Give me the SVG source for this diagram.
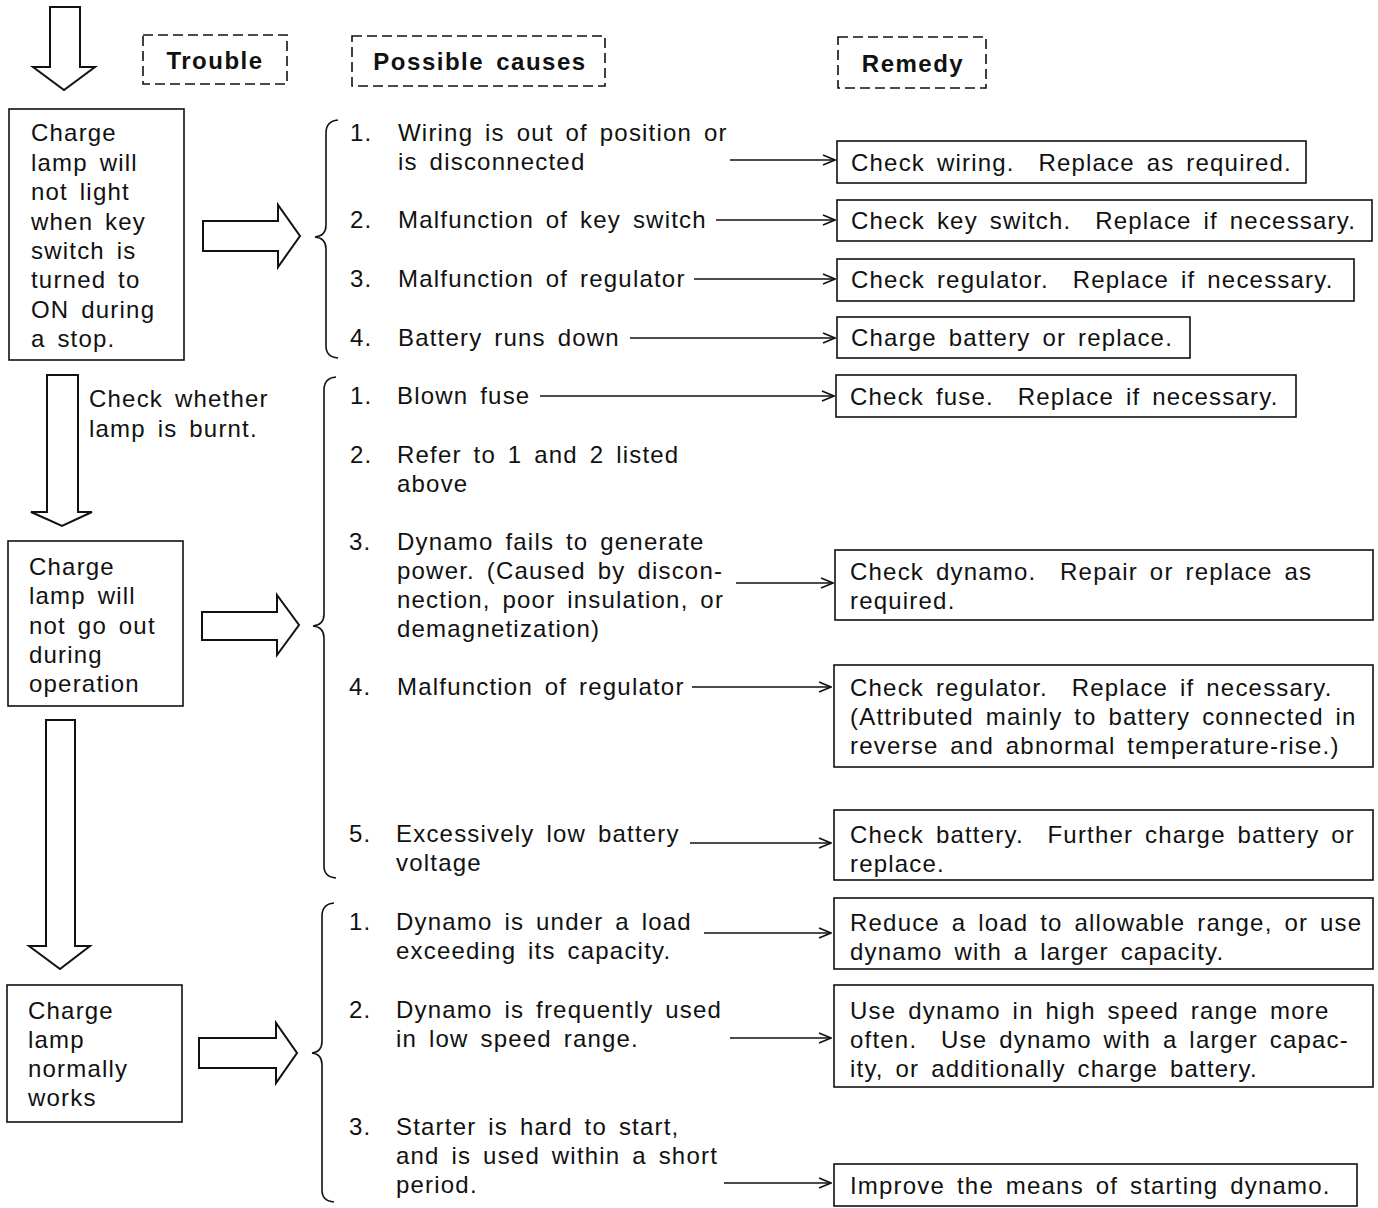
<svg xmlns="http://www.w3.org/2000/svg" width="1378" height="1208" viewBox="0 0 1378 1208">
<style>
text{font-family:"Liberation Sans",Arial,sans-serif;font-size:24px;fill:#111;letter-spacing:1.2px;word-spacing:4px;white-space:pre}
.h{font-weight:bold;letter-spacing:1.5px}
.dash{fill:none;stroke:#111;stroke-width:1.6;stroke-dasharray:10 5}
.box{fill:#fff;stroke:#111;stroke-width:1.6}
.big{fill:#fff;stroke:#111;stroke-width:2;stroke-linejoin:miter}
.brace{fill:none;stroke:#111;stroke-width:1.6}
.con{fill:none;stroke:#111;stroke-width:1.6;marker-end:url(#ah)}
</style>
<defs>
<marker id="ah" viewBox="0 0 14 12" refX="13" refY="6" markerWidth="14" markerHeight="12" markerUnits="userSpaceOnUse" orient="auto">
<path d="M1,1 L13,6 L1,11" fill="none" stroke="#111" stroke-width="1.6"/>
</marker>
</defs>
<rect width="1378" height="1208" fill="#fff"/>

<g id="headers">
<g id="h-trouble"><rect class="dash" x="143" y="35" width="144" height="49"/><text class="h" x="215" y="69" text-anchor="middle">Trouble</text></g>
<g id="h-causes"><rect class="dash" x="352" y="36" width="253" height="50"/><text class="h" x="480" y="70" text-anchor="middle">Possible causes</text></g>
<g id="h-remedy"><rect class="dash" x="838" y="37" width="148" height="51"/><text class="h" x="913" y="72" text-anchor="middle">Remedy</text></g>
</g>

<g id="flow-arrows">
<path id="down0" class="big" d="M50,7 H80 V67 H95 L64,90 L33,67 H50 Z"/>
<path id="down1" class="big" d="M47,375 H78 V512 H92 L62,526 L31,512 H47 Z"/>
<path id="down2" class="big" d="M46,720 H75 V946 H90 L60,969 L29,946 H46 Z"/>
<path id="right1" class="big" d="M203,221 H278 V205 L300,236 L278,267 V251 H203 Z"/>
<path id="right2" class="big" d="M202,612 H277 V595 L299,625 L277,655 V640 H202 Z"/>
<path id="right3" class="big" d="M199,1038 H276 V1023 L297,1053 L276,1083 V1068 H199 Z"/>
</g>

<g id="trouble1"><rect class="box" x="9" y="109" width="175" height="251"/>
<text x="31" y="141">Charge</text><text x="31" y="171">lamp will</text><text x="31" y="200">not light</text><text x="31" y="230">when key</text><text x="31" y="259">switch is</text><text x="31" y="288">turned to</text><text x="31" y="318">ON during</text><text x="31" y="347">a stop.</text></g>

<g id="note"><text x="89" y="407">Check whether</text><text x="89" y="437">lamp is burnt.</text></g>

<g id="trouble2"><rect class="box" x="8" y="541" width="175" height="165"/>
<text x="29" y="575">Charge</text><text x="29" y="604">lamp will</text><text x="29" y="634">not go out</text><text x="29" y="663">during</text><text x="29" y="692">operation</text></g>

<g id="trouble3"><rect class="box" x="7" y="985" width="175" height="137"/>
<text x="28" y="1019">Charge</text><text x="28" y="1048">lamp</text><text x="28" y="1077">normally</text><text x="28" y="1106">works</text></g>

<g id="braces">
<path class="brace" d="M338,120 Q326,121 326,133 V225 Q326,236 315,237 Q326,238 326,249 V346 Q326,357 338,358"/>
<path class="brace" d="M336,377 Q324,378 324,390 V614 Q324,625 313,626 Q324,627 324,638 V866 Q324,877 336,878"/>
<path class="brace" d="M334,903 Q322,904 322,916 V1041 Q322,1052 312,1053 Q322,1054 322,1065 V1190 Q322,1201 334,1202"/>
</g>

<g id="causes1">
<text x="350" y="141">1.</text><text x="398" y="141">Wiring is out of position or</text><text x="398" y="170">is disconnected</text>
<text x="350" y="228">2.</text><text x="398" y="228">Malfunction of key switch</text>
<text x="350" y="287">3.</text><text x="398" y="287">Malfunction of regulator</text>
<text x="350" y="346">4.</text><text x="398" y="346">Battery runs down</text>
</g>
<g id="causes2">
<text x="350" y="404">1.</text><text x="397" y="404">Blown fuse</text>
<text x="350" y="463">2.</text><text x="397" y="463">Refer to 1 and 2 listed</text><text x="397" y="492">above</text>
<text x="349" y="550">3.</text><text x="397" y="550">Dynamo fails to generate</text><text x="397" y="579">power. (Caused by discon-</text><text x="397" y="608">nection, poor insulation, or</text><text x="397" y="637">demagnetization)</text>
<text x="349" y="695">4.</text><text x="397" y="695">Malfunction of regulator</text>
<text x="349" y="842">5.</text><text x="396" y="842">Excessively low battery</text><text x="396" y="871">voltage</text>
</g>
<g id="causes3">
<text x="349" y="930">1.</text><text x="396" y="930">Dynamo is under a load</text><text x="396" y="959">exceeding its capacity.</text>
<text x="349" y="1018">2.</text><text x="396" y="1018">Dynamo is frequently used</text><text x="396" y="1047">in low speed range.</text>
<text x="349" y="1135">3.</text><text x="396" y="1135">Starter is hard to start,</text><text x="396" y="1164">and is used within a short</text><text x="396" y="1193">period.</text>
</g>

<g id="connectors">
<line class="con" x1="730" y1="160" x2="835" y2="160"/>
<line class="con" x1="716" y1="220" x2="835" y2="220"/>
<line class="con" x1="694" y1="279" x2="835" y2="279"/>
<line class="con" x1="630" y1="338" x2="835" y2="338"/>
<line class="con" x1="540" y1="396" x2="834" y2="396"/>
<line class="con" x1="736" y1="583" x2="833" y2="583"/>
<line class="con" x1="692" y1="687" x2="831" y2="687"/>
<line class="con" x1="690" y1="843" x2="831" y2="843"/>
<line class="con" x1="704" y1="933" x2="831" y2="933"/>
<line class="con" x1="730" y1="1038" x2="831" y2="1038"/>
<line class="con" x1="724" y1="1183" x2="831" y2="1183"/>
</g>

<g id="r1"><rect class="box" x="837" y="141" width="469" height="42"/><text x="851" y="171">Check wiring.  Replace as required.</text></g>
<g id="r2"><rect class="box" x="837" y="200" width="535" height="41"/><text x="851" y="229">Check key switch.  Replace if necessary.</text></g>
<g id="r3"><rect class="box" x="837" y="259" width="517" height="42"/><text x="851" y="288">Check regulator.  Replace if necessary.</text></g>
<g id="r4"><rect class="box" x="837" y="317" width="353" height="41"/><text x="851" y="346">Charge battery or replace.</text></g>
<g id="r5"><rect class="box" x="836" y="375" width="460" height="42"/><text x="850" y="405">Check fuse.  Replace if necessary.</text></g>
<g id="r6"><rect class="box" x="835" y="550" width="538" height="70"/><text x="850" y="580">Check dynamo.  Repair or replace as</text><text x="850" y="609">required.</text></g>
<g id="r7"><rect class="box" x="834" y="665" width="539" height="102"/><text x="850" y="696">Check regulator.  Replace if necessary.</text><text x="850" y="725">(Attributed mainly to battery connected in</text><text x="850" y="754">reverse and abnormal temperature-rise.)</text></g>
<g id="r8"><rect class="box" x="834" y="810" width="539" height="70"/><text x="850" y="843">Check battery.  Further charge battery or</text><text x="850" y="872">replace.</text></g>
<g id="r9"><rect class="box" x="834" y="898" width="539" height="71"/><text x="850" y="931">Reduce a load to allowable range, or use</text><text x="850" y="960">dynamo with a larger capacity.</text></g>
<g id="r10"><rect class="box" x="834" y="985" width="539" height="102"/><text x="850" y="1019">Use dynamo in high speed range more</text><text x="850" y="1048">often.  Use dynamo with a larger capac-</text><text x="850" y="1077">ity, or additionally charge battery.</text></g>
<g id="r11"><rect class="box" x="834" y="1164" width="523" height="42"/><text x="850" y="1194">Improve the means of starting dynamo.</text></g>
</svg>
